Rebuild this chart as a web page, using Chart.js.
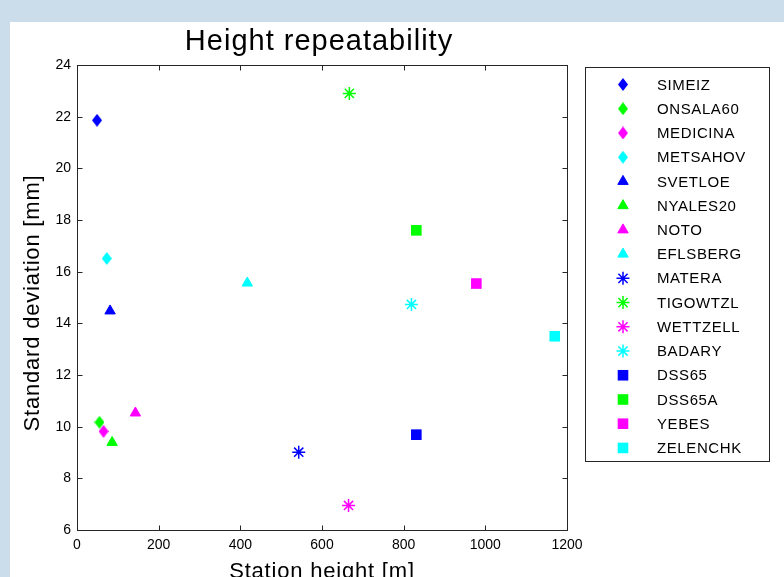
<!DOCTYPE html>
<html>
<head>
<meta charset="utf-8">
<title>Height repeatability</title>
<script src="https://cdn.jsdelivr.net/npm/chart.js"></script>
<style>
  html, body { margin: 0; padding: 0; }
  body { width: 784px; height: 577px; background: #cbdcea; position: relative; overflow: hidden; }
  #panel { position: absolute; left: 10px; top: 22px; right: 0; bottom: 0; background: #fff; }
  #wrap { position: absolute; left: 0; top: 0; width: 784px; height: 577px; }
</style>
</head>
<body>
<div id="panel"></div>
<div id="wrap"><canvas id="grafico"></canvas></div>
<script>
// estaciones y valores
const estaciones = ['SIMEIZ', 'ONSALA60', 'MEDICINA', 'METSAHOV',
                    'SVETLOE', 'NYALES20', 'NOTO', 'EFLSBERG',
                    'MATERA', 'TIGOWTZL', 'WETTZELL', 'BADARY',
                    'DSS65', 'DSS65A', 'YEBES', 'ZELENCHK'];
const alturas = [49, 55, 65, 73,
                 81, 86, 143, 417,
                 543, 667, 665, 819,
                 831, 831, 978, 1170];
const desviaciones = [21.86, 10.17, 9.82, 16.51,
                      14.48, 9.39, 10.53, 15.56,
                      9.01, 22.9, 6.95, 14.73,
                      9.69, 17.6, 15.54, 13.5];
const ticksX = [0, 200, 400, 600, 800, 1000, 1200];
const ticksY = [6, 8, 10, 12, 14, 16, 18, 20, 22, 24];

const colores = ['#0000ff', '#00ff00', '#ff00ff', '#00ffff'];
const formas = ['diamond', 'triangle', 'star', 'rect'];
const fuente = "'Liberation Sans', Arial, Helvetica, sans-serif";

// rombo un poco mas alto que ancho, como el de MATLAB
function crearRombo(color, w, h) {
    const c = document.createElement('canvas');
    c.width = w; c.height = h;
    const g = c.getContext('2d');
    g.fillStyle = color;
    g.beginPath();
    g.moveTo(w / 2, 0);
    g.lineTo(w, h / 2);
    g.lineTo(w / 2, h);
    g.lineTo(0, h / 2);
    g.closePath();
    g.fill();
    return c;
}

function estiloPunto(i) {
    const color = colores[i % 4];
    const forma = formas[Math.floor(i / 4)];
    if (forma === 'diamond') return { pointStyle: crearRombo(color, 10, 13), radius: 6, borderWidth: 0 };
    if (forma === 'triangle') return { pointStyle: 'triangle', radius: 6, borderWidth: 1 };
    if (forma === 'star') return { pointStyle: 'star', radius: 6.5, borderWidth: 1.5 };
    return { pointStyle: 'rect', radius: 7.5, borderWidth: 0 };
}

const datasets = estaciones.map((nombre, i) => {
    const e = estiloPunto(i);
    return {
        label: nombre,
        data: [{ x: alturas[i], y: desviaciones[i] }],
        pointStyle: e.pointStyle,
        pointRadius: e.radius,
        pointHoverRadius: e.radius,
        pointBorderWidth: e.borderWidth,
        backgroundColor: colores[i % 4],
        borderColor: colores[i % 4],
        showLine: false
    };
});

// ejes estilo MATLAB: caja completa y marcas hacia dentro
const cajaEjes = {
    id: 'cajaEjes',
    beforeDatasetsDraw(chart) {
        const { ctx, chartArea: a, scales } = chart;
        const l = Math.round(a.left) + 0.5, r = Math.round(a.right) + 0.5;
        const t = Math.round(a.top) + 0.5, b = Math.round(a.bottom) + 0.5;
        ctx.save();
        ctx.strokeStyle = '#262626';
        ctx.lineWidth = 1;
        ctx.strokeRect(l, t, r - l, b - t);
        ctx.beginPath();
        ticksX.forEach(v => {
            const px = Math.round(scales.x.getPixelForValue(v)) + 0.5;
            ctx.moveTo(px, b); ctx.lineTo(px, b - 5);
            ctx.moveTo(px, t); ctx.lineTo(px, t + 5);
        });
        ticksY.forEach(v => {
            const py = Math.round(scales.y.getPixelForValue(v)) + 0.5;
            ctx.moveTo(l, py); ctx.lineTo(l + 5, py);
            ctx.moveTo(r, py); ctx.lineTo(r - 5, py);
        });
        ctx.stroke();
        ctx.restore();
    },
    afterDraw(chart) {
        const { ctx, chartArea: a } = chart;
        const cx = (a.left + a.right) / 2;
        ctx.save();
        ctx.fillStyle = '#000';
        // titulo
        ctx.font = '29px ' + fuente;
        ctx.letterSpacing = '1px';
        ctx.textAlign = 'center';
        ctx.textBaseline = 'alphabetic';
        ctx.fillText('Height repeatability', cx - 3, 50);
        // titulos de ejes
        ctx.font = '22px ' + fuente;
        ctx.letterSpacing = '0.8px';
        ctx.fillText('Station height [m]', cx, 578);
        ctx.translate(38.5, 303);
        ctx.rotate(-Math.PI / 2);
        ctx.fillText('Standard deviation [mm]', 0, 0);
        ctx.restore();
    }
};

// leyenda con recuadro a la derecha
const leyenda = {
    id: 'leyenda',
    afterDraw(chart) {
        const ctx = chart.ctx;
        ctx.save();
        ctx.strokeStyle = '#262626';
        ctx.lineWidth = 1;
        ctx.fillStyle = '#fff';
        ctx.fillRect(585.5, 67.5, 184, 394);
        ctx.strokeRect(585.5, 67.5, 184, 394);
        ctx.font = '15px ' + fuente;
        ctx.letterSpacing = '0.6px';
        ctx.textAlign = 'left';
        ctx.textBaseline = 'middle';
        chart.data.datasets.forEach((ds, i) => {
            const y = 84.5 + i * 24.23;
            ctx.fillStyle = ds.backgroundColor;
            ctx.strokeStyle = ds.borderColor;
            ctx.lineWidth = ds.pointBorderWidth;
            if (Chart.helpers && Chart.helpers.drawPoint) {
                Chart.helpers.drawPoint(ctx, {
                    pointStyle: ds.pointStyle,
                    radius: ds.pointRadius,
                    rotation: 0,
                    borderWidth: ds.pointBorderWidth
                }, 623, y);
            }
            ctx.fillStyle = '#000';
            ctx.fillText(ds.label, 657, y + 1);
        });
        ctx.restore();
    }
};

const ctx = document.getElementById('grafico').getContext('2d');
const chart = new Chart(ctx, {
    type: 'scatter',
    data: { datasets: datasets },
    plugins: [cajaEjes, leyenda],
    options: {
        responsive: true,
        maintainAspectRatio: false,
        animation: false,
        layout: { padding: { left: 0, top: 65, right: 217, bottom: 0 } },
        plugins: {
            legend: { display: false },
            title: { display: false },
            tooltip: { enabled: false }
        },
        scales: {
            x: {
                type: 'linear',
                min: 0,
                max: 1200,
                afterBuildTicks: s => { s.ticks = ticksX.map(v => ({ value: v })); },
                afterFit: s => { s.height = 47; },
                grid: { display: false, drawTicks: false },
                border: { display: false },
                ticks: { autoSkip: false, maxRotation: 0, padding: 7, color: '#000',
                         font: { family: fuente, size: 14 }, callback: v => String(v) }
            },
            y: {
                type: 'linear',
                min: 6,
                max: 24,
                afterBuildTicks: s => { s.ticks = ticksY.map(v => ({ value: v })); },
                afterFit: s => { s.width = 77; },
                grid: { display: false, drawTicks: false },
                border: { display: false },
                ticks: { autoSkip: false, padding: 6, color: '#000',
                         font: { family: fuente, size: 14 }, callback: v => String(v) }
            }
        }
    }
});
</script>
</body>
</html>
